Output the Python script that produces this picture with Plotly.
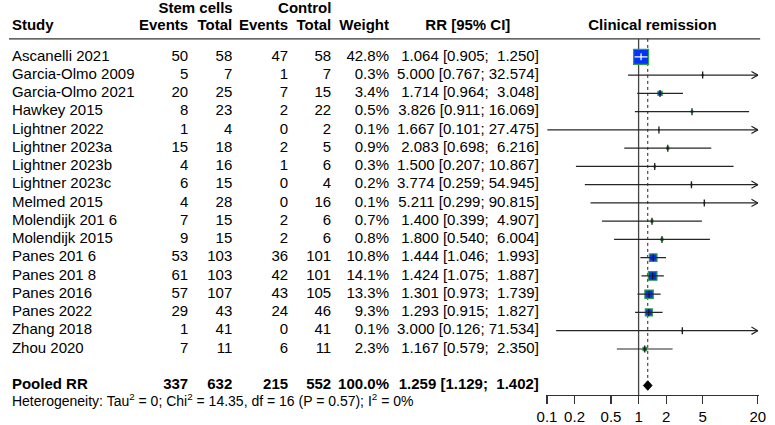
import math
import plotly.graph_objects as go

# ---------------- data ----------------
studies = ["Ascanelli 2021", "Garcia-Olmo 2009", "Garcia-Olmo 2021", "Hawkey 2015",
           "Lightner 2022", "Lightner 2023a", "Lightner 2023b", "Lightner 2023c",
           "Melmed 2015", "Molendijk 201 6", "Molendijk 2015", "Panes 201 6",
           "Panes 201 8", "Panes 2016", "Panes 2022", "Zhang 2018", "Zhou 2020"]
events_sc = [50, 5, 20, 8, 1, 15, 4, 6, 4, 7, 9, 53, 61, 57, 29, 1, 7]
total_sc = [58, 7, 25, 23, 4, 18, 16, 15, 28, 15, 15, 103, 103, 107, 43, 41, 11]
events_ct = [47, 1, 7, 2, 0, 2, 1, 0, 0, 2, 2, 36, 42, 43, 24, 0, 6]
total_ct = [58, 7, 15, 22, 2, 5, 6, 4, 16, 6, 6, 101, 101, 105, 46, 41, 11]
weights = [42.8, 0.3, 3.4, 0.5, 0.1, 0.9, 0.3, 0.2, 0.1, 0.7, 0.8, 10.8, 14.1, 13.3, 9.3, 0.1, 2.3]
rr = [1.064, 5.000, 1.714, 3.826, 1.667, 2.083, 1.500, 3.774, 5.211, 1.400, 1.800,
      1.444, 1.424, 1.301, 1.293, 3.000, 1.167]
ci_lo = [0.905, 0.767, 0.964, 0.911, 0.101, 0.698, 0.207, 0.259, 0.299, 0.399, 0.540,
         1.046, 1.075, 0.973, 0.915, 0.126, 0.579]
ci_hi = [1.250, 32.574, 3.048, 16.069, 27.475, 6.216, 10.867, 54.945, 90.815, 4.907, 6.004,
         1.993, 1.887, 1.739, 1.827, 71.534, 2.350]

pooled_label = "Pooled RR"
pooled_counts = [337, 632, 215, 552]
pooled_weight = 100.0
pooled_rr = 1.259
pooled_lo = 1.129
pooled_hi = 1.402
heterogeneity = "Heterogeneity: Tau<sup>2</sup> = 0; Chi<sup>2</sup> = 14.35, df = 16 (P = 0.57); I<sup>2</sup> = 0%"

tick_vals = [0.1, 0.2, 0.5, 1, 2, 5, 20]
tick_text = ["0.1", "0.2", "0.5", "1", "2", "5", "20"]
x_min, x_max = 0.1, 20

# ---------------- geometry / style ----------------
W, H = 775, 425
ROW0_PX, ROW_PX = 57.0, 18.3
AXIS_PX = 396.0
PX_PER_DEC = 93.57
X01_PX = 549.3            # pixel of x = 0.1
FONT = "Liberation Sans, Arial, sans-serif"
FS = 15

def px_to_row(p):
    return (p - ROW0_PX) / ROW_PX

n = len(studies)
rows = list(range(n))
pooled_row = n + 1
het_row = pooled_row + 0.95
hdr_top_row = px_to_row(9.5)
hdr_row = px_to_row(26.5)
hline_row = px_to_row(39)
axis_row = px_to_row(AXIS_PX)

col_x = {"ev_sc": 183, "tot_sc": 228, "ev_ct": 285, "tot_ct": 329, "w": 388, "rr": 541}

nb = "\u00a0"
def fmt_ci(r, l, h):
    return f"{r:.3f} [{l:.3f}; {h:6.3f}]".replace(" ", nb)

fig = go.Figure()

def text_col(x, ys, texts, pos="middle left", bold=False, size=FS):
    fig.add_trace(go.Scatter(
        x=[x] * len(ys), y=ys, text=[(f"<b>{t}</b>" if bold else t) for t in texts],
        mode="text", textposition=pos, cliponaxis=False, hoverinfo="skip",
        textfont=dict(family=FONT, size=size, color="black"),
        xaxis="x", yaxis="y", showlegend=False))

# study names
text_col(3, rows, studies, pos="middle right")
text_col(3, [pooled_row], [pooled_label], pos="middle right", bold=True)
text_col(3, [het_row], [heterogeneity], pos="middle right", size=14)

# numbers
for key, vals in [("ev_sc", events_sc), ("tot_sc", total_sc), ("ev_ct", events_ct), ("tot_ct", total_ct)]:
    text_col(col_x[key], rows, [str(v) for v in vals])
for key, v in zip(["ev_sc", "tot_sc", "ev_ct", "tot_ct"], pooled_counts):
    text_col(col_x[key], [pooled_row], [str(v)], bold=True)
text_col(col_x["w"], rows, [f"{w:.1f}%" for w in weights])
text_col(col_x["w"], [pooled_row], [f"{pooled_weight:.1f}%"], bold=True)
text_col(col_x["rr"], rows, [fmt_ci(r, l, h) for r, l, h in zip(rr, ci_lo, ci_hi)])
text_col(col_x["rr"], [pooled_row], [fmt_ci(pooled_rr, pooled_lo, pooled_hi)], bold=True)

# headers
text_col(3, [hdr_row], ["Study"], pos="middle right", bold=True)
for key, lab in [("ev_sc", "Events"), ("tot_sc", "Total"), ("ev_ct", "Events"), ("tot_ct", "Total"), ("w", "Weight")]:
    text_col(col_x[key], [hdr_row], [lab], bold=True)
text_col(190.5, [hdr_top_row], ["Stem cells"], pos="middle center", bold=True)
text_col(302, [hdr_top_row], ["Control"], pos="middle center", bold=True)
text_col(468.5, [hdr_row], ["RR [95% CI]"], pos="middle center", bold=True)
text_col(657, [hdr_row], ["Clinical remission"], pos="middle center", bold=True)

# ---------------- forest panel ----------------
def fx(**kw):
    d = dict(xaxis="x2", yaxis="y2", showlegend=False, hoverinfo="skip")
    d.update(kw)
    return d

LINE_C = "#262626"

# reference line at 1 and dotted pooled line
fig.add_trace(go.Scatter(**fx(x=[1, 1], y=[hline_row, axis_row], mode="lines",
                              line=dict(color="#444444", width=1.3))))
fig.add_trace(go.Scatter(**fx(x=[pooled_rr, pooled_rr], y=[hline_row, pooled_row - 0.3], mode="lines",
                              line=dict(color="#222222", width=1, dash="dot"))))

# squares (area ~ weight)
max_w = max(weights)
sizes = [15 * math.sqrt(w / max_w) for w in weights]
fig.add_trace(go.Scatter(**fx(x=rr, y=rows, mode="markers", opacity=1,
                              marker=dict(symbol="square", size=sizes, color="#0033FF", opacity=1,
                                          line=dict(color="#2E9E3E", width=1.2)))))

# CI lines
inside = [(math.log10(h) - math.log10(l)) * PX_PER_DEC < s for l, h, s in zip(ci_lo, ci_hi, sizes)]
cx, cy, wx, wy = [], [], [], []
for i in rows:
    lo_c = max(ci_lo[i], x_min)
    hi_c = min(ci_hi[i], x_max)
    if inside[i]:
        wx += [lo_c, hi_c, None]; wy += [i, i, None]
    else:
        cx += [lo_c, hi_c, None]; cy += [i, i, None]
fig.add_trace(go.Scatter(**fx(x=cx, y=cy, mode="lines", line=dict(color=LINE_C, width=1.2))))
fig.add_trace(go.Scatter(**fx(x=wx, y=wy, mode="lines", line=dict(color="white", width=1.1))))

# arrow heads where CI exceeds the axis
ax_, ay_ = [], []
back = 10 ** (-6.5 / PX_PER_DEC)
for i in rows:
    if ci_hi[i] > x_max:
        ax_ += [x_max * back, x_max, x_max * back, None]
        ay_ += [i - 0.2, i, i + 0.2, None]
fig.add_trace(go.Scatter(**fx(x=ax_, y=ay_, mode="lines", line=dict(color=LINE_C, width=1.2))))

# point estimate ticks
fig.add_trace(go.Scatter(**fx(x=rr, y=rows, mode="markers",
                              marker=dict(symbol="line-ns", size=5,
                                          line=dict(width=1.3, color=["white" if v else "#1a1a1a" for v in inside])))))

# pooled diamond
fig.add_trace(go.Scatter(**fx(x=[pooled_lo, pooled_rr, pooled_hi, pooled_rr, pooled_lo],
                              y=[pooled_row, pooled_row - 0.26, pooled_row, pooled_row + 0.26, pooled_row],
                              mode="lines", fill="toself", fillcolor="black",
                              line=dict(color="black", width=1))))

# ---------------- layout ----------------
lg_lo = math.log10(x_min) - 0.01
lg_hi = math.log10(x_max) + 0.01
left_px = X01_PX - 0.01 * PX_PER_DEC
right_px = X01_PX + (lg_hi - math.log10(x_min)) * PX_PER_DEC

fig.update_layout(
    width=W, height=H, margin=dict(l=0, r=0, t=0, b=0),
    paper_bgcolor="white", plot_bgcolor="rgba(0,0,0,0)",
    font=dict(family=FONT, size=FS, color="black"),
    xaxis=dict(domain=[0, 1], range=[0, W], visible=False, fixedrange=True),
    yaxis=dict(domain=[0, 1], range=[px_to_row(H), px_to_row(0)], visible=False, fixedrange=True),
    xaxis2=dict(type="log", domain=[left_px / W, right_px / W], range=[lg_lo, lg_hi],
                anchor="y2", showgrid=False, zeroline=False, showline=True,
                linecolor="#333333", linewidth=1.2, ticks="outside", ticklen=8,
                tickwidth=1.2, tickcolor="#333333", tickvals=tick_vals, ticktext=tick_text,
                tickfont=dict(family=FONT, size=FS, color="black")),
    yaxis2=dict(domain=[1 - AXIS_PX / H, 1], range=[axis_row, px_to_row(0)],
                visible=False, anchor="x2"),
    shapes=[dict(type="line", xref="paper", yref="y", x0=0, x1=767 / W,
                 y0=hline_row, y1=hline_row, line=dict(color="#333333", width=1.3))],
)

fig.write_html("out.html", config={"displayModeBar": False, "staticPlot": True},
               post_script="document.body.style.margin='0';document.body.style.overflow='hidden';")
